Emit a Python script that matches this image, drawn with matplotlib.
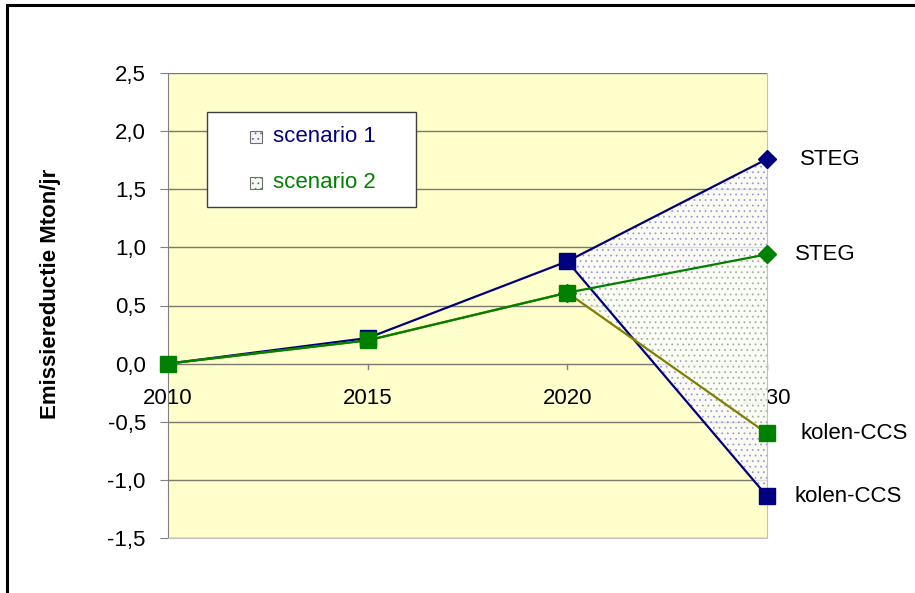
import matplotlib.pyplot as plt
from matplotlib.patches import Rectangle, Polygon

plt.rcParams['font.family'] = ['Liberation Sans', 'DejaVu Sans']
plt.rcParams['hatch.linewidth'] = 0.6

# categories on the x axis (evenly spaced, Excel style)
years = ['2010', '2015', '2020', '2030']
yticks = [-1.5, -1.0, -0.5, 0.0, 0.5, 1.0, 1.5, 2.0, 2.5]
ytick_labels = ['-1,5', '-1,0', '-0,5', '0,0', '0,5', '1,0', '1,5', '2,0', '2,5']

# scenario 1 (blue)
s1_path = [0.0, 0.22, 0.88]
s1_steg = 1.76
s1_kolen = -1.14
# scenario 2 (green)
s2_path = [0.0, 0.20, 0.61]
s2_steg = 0.94
s2_kolen = -0.60

blue = '#000080'
green = '#008000'
olive = '#808000'
fs = 16

fig = plt.figure(figsize=(9.15, 5.93), dpi=100)
ax = fig.add_axes([168 / 915, 1 - 538 / 593, 599 / 915, 465 / 593])
ax.set_facecolor('#FFFFCC')

x = list(range(len(years)))
ax.set_xlim(0, 3)
ax.set_ylim(-1.5, 2.5)

# grid
for yv in yticks:
    ax.axhline(yv, color='#7a7a70', lw=1.0, zorder=0.5)

# dotted fan areas
poly1 = Polygon([(2, s1_path[2]), (3, s1_steg), (3, s1_kolen)], closed=True,
                facecolor='#fafaff', edgecolor='#8a8ad8', hatch='...', lw=0, alpha=0.78, zorder=2)
ax.add_patch(poly1)
poly2 = Polygon([(2, s2_path[2]), (3, s2_steg), (3, s2_kolen)], closed=True,
                facecolor='#fbfdf6', edgecolor='#98b088', hatch='...', lw=0, alpha=0.8, zorder=2.1)
ax.add_patch(poly2)

# lines
ax.plot(x[:3] + [3], s1_path + [s1_steg], color=blue, lw=1.6, zorder=3, clip_on=False)
ax.plot([2, 3], [s1_path[2], s1_kolen], color=blue, lw=1.6, zorder=3, clip_on=False)
ax.plot(x[:3] + [3], s2_path + [s2_kolen], color=olive, lw=1.6, zorder=3.1, clip_on=False)
ax.plot(x[:3] + [3], s2_path + [s2_steg], color=green, lw=1.6, zorder=3.2, clip_on=False)

# markers
ax.plot(x[1:3], s1_path[1:], 's', color=blue, ms=11, zorder=4, clip_on=False)
ax.plot([3], [s1_kolen], 's', color=blue, ms=11, zorder=4, clip_on=False)
ax.plot([3], [s1_steg], 'D', color=blue, ms=9.5, zorder=4, clip_on=False)
ax.plot(x[:3], s2_path, 's', color=green, ms=11, zorder=4.1, clip_on=False)
ax.plot([3], [s2_kolen], 's', color=green, ms=11, zorder=4.1, clip_on=False)
ax.plot([2, 3], [s2_path[2], s2_steg], 'D', color=green, ms=9.5, zorder=4.2, clip_on=False)

# end labels
ax.annotate('STEG', (3, s1_steg), xytext=(24, 0), textcoords='offset points',
            fontsize=fs, va='center', ha='left', annotation_clip=False)
ax.annotate('STEG', (3, s2_steg), xytext=(20, 0), textcoords='offset points',
            fontsize=fs, va='center', ha='left', annotation_clip=False)
ax.annotate('kolen-CCS', (3, s2_kolen), xytext=(24, 0), textcoords='offset points',
            fontsize=fs, va='center', ha='left', annotation_clip=False)
ax.annotate('kolen-CCS', (3, s1_kolen), xytext=(20, 0), textcoords='offset points',
            fontsize=fs, va='center', ha='left', annotation_clip=False)

# category labels sit just under the zero line
for xi, lab in zip(x, years):
    ax.annotate(lab, (xi, 0), xytext=(0, -25), textcoords='offset points',
                fontsize=fs, ha='center', va='center', zorder=1.5, annotation_clip=False)
    ax.plot([xi, xi], [0, -0.05], color='#808080', lw=1, zorder=0.6, clip_on=False)

ax.set_xticks([])
ax.set_yticks(yticks)
ax.set_yticklabels(ytick_labels, fontsize=fs)
ax.tick_params(axis='y', direction='out', length=6, color='#808080', pad=10)
ax.spines['top'].set_visible(False)
ax.spines['left'].set_color('#808080')
ax.spines['right'].set_color('#c0c0c0')
ax.spines['bottom'].set_color('#c0c0c0')

fig.text(51 / 915, 1 - 294 / 593, 'Emissiereductie Mton/jr', rotation=90,
         fontsize=16, fontweight='bold', ha='center', va='center')

# legend box
fig.patches.append(Rectangle((207 / 915, 1 - 207 / 593), 209 / 915, 95 / 593,
                             transform=fig.transFigure, facecolor='white',
                             edgecolor='#404040', lw=1, zorder=5))
fig.patches.append(Rectangle((250 / 915, 1 - 143 / 593), 12 / 915, 12 / 593,
                             transform=fig.transFigure, facecolor='#f4f4ff',
                             edgecolor='#707070', hatch='...', lw=0.8, zorder=6))
fig.patches.append(Rectangle((250 / 915, 1 - 189 / 593), 12 / 915, 12 / 593,
                             transform=fig.transFigure, facecolor='#f4fbf0',
                             edgecolor='#707070', hatch='...', lw=0.8, zorder=6))
fig.text(273 / 915, 1 - 137 / 593, 'scenario 1', color=blue, fontsize=fs,
         va='center', ha='left', zorder=7)
fig.text(273 / 915, 1 - 183 / 593, 'scenario 2', color=green, fontsize=fs,
         va='center', ha='left', zorder=7)

# outer frame of the original chart object
fig.patches.append(Rectangle((7 / 915, -0.1), 1.2, 1.1 - 5 / 593,
                             transform=fig.transFigure, facecolor='none',
                             edgecolor='black', lw=2.2, zorder=10))

fig.savefig('out.png', dpi=100)
